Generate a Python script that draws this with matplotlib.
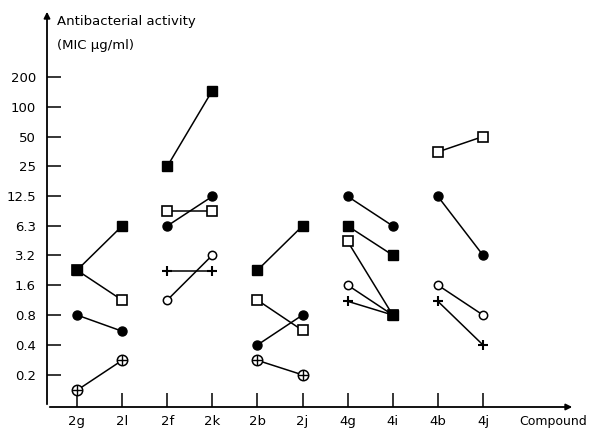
import matplotlib.pyplot as plt

compounds = ["2g", "2l", "2f", "2k", "2b", "2j", "4g", "4i", "4b", "4j"]
pairs = [("2g", "2l"), ("2f", "2k"), ("2b", "2j"), ("4g", "4i"), ("4b", "4j")]
y_ticks = [0.2, 0.4, 0.8, 1.6, 3.2, 6.3, 12.5, 25, 50, 100, 200]

# MIC values, per symbol, per compound
filled_square = {"2g": 2.26, "2l": 6.3, "2f": 25, "2k": 145, "2b": 2.26, "2j": 6.3,
                 "4g": 6.3, "4i": 3.2}
open_square = {"2g": 2.26, "2l": 1.13, "2f": 9.0, "2k": 9.0, "2b": 1.13, "2j": 0.56,
               "4g": 4.4, "4i": 0.8, "4b": 35, "4j": 50}
filled_circle = {"2g": 0.8, "2l": 0.55, "2f": 6.3, "2k": 12.5, "2b": 0.4, "2j": 0.8,
                 "4g": 12.5, "4i": 6.3, "4b": 12.5, "4j": 3.2}
open_circle = {"2f": 1.13, "2k": 3.2, "4g": 1.6, "4i": 0.8, "4b": 1.6, "4j": 0.8}
plus = {"2f": 2.2, "2k": 2.2, "4g": 1.1, "4i": 0.8, "4b": 1.1, "4j": 0.4}
crossed_circle = {"2g": 0.14, "2l": 0.28, "2b": 0.28, "2j": 0.2}

# where several symbols coincide the print shows a solid square
solid_overlap = [("4i", 0.8)]

fig = plt.figure(figsize=(5.9, 4.29), dpi=100)
ax = fig.add_axes([47 / 590, 22 / 429, 528 / 590, 398 / 429])
xpos = {c: i for i, c in enumerate(compounds)}

styles = [
    (open_square, dict(marker="s", ms=7.5, mfc="white", mec="black", mew=1.2)),
    (open_circle, dict(marker="o", ms=6, mfc="white", mec="black", mew=1.1)),
    (plus, dict(marker="+", ms=7, mec="black", mew=1.5)),
    (crossed_circle, dict(marker="o", ms=7.5, mfc="white", mec="black", mew=1.1)),
    (filled_circle, dict(marker="o", ms=6.5, mfc="black", mec="black")),
    (filled_square, dict(marker="s", ms=7.5, mfc="black", mec="black")),
]

for series, st in styles:
    for a, b in pairs:
        if a in series and b in series:
            ax.plot([xpos[a], xpos[b]], [series[a], series[b]], color="black",
                    lw=1.1, zorder=2)
    xs = [xpos[c] for c in series]
    ys = list(series.values())
    ax.plot(xs, ys, ls="none", zorder=3, **st)
    if series is crossed_circle:
        ax.plot(xs, ys, ls="none", marker="+", ms=7.5, mec="black", mew=1.0, zorder=4)

for c, v in solid_overlap:
    ax.plot(xpos[c], v, ls="none", marker="s", ms=7.5, mfc="black", mec="black", zorder=5)

ax.set_yscale("log")
ax.set_ylim(0.095, 960)
ax.set_xlim(-0.665, 11.04)
ax.minorticks_off()
ax.set_yticks(y_ticks)
ax.set_yticklabels([str(t) for t in y_ticks])
ax.set_xticks(range(len(compounds)))
ax.set_xticklabels(compounds)
ax.tick_params(axis="both", direction="in", length=10, width=1.1, labelsize=9.5,
               color="black")
ax.tick_params(axis="y", pad=8)
ax.tick_params(axis="x", pad=6)

for s in ax.spines.values():
    s.set_visible(False)
ax.annotate("", xy=(0, 1.0), xytext=(0, 0), xycoords="axes fraction",
            arrowprops=dict(arrowstyle="-|>", lw=1.3, color="black", mutation_scale=9))
ax.annotate("", xy=(1.0, 0), xytext=(0, 0), xycoords="axes fraction",
            arrowprops=dict(arrowstyle="-|>", lw=1.3, color="black", mutation_scale=9))

fig.text(57 / 590, 1 - 22 / 429, "Antibacterial activity", fontsize=9.5, va="center")
fig.text(57 / 590, 1 - 46 / 429, "(MIC \u03bcg/ml)", fontsize=9.5, va="center")
fig.text(519 / 590, 1 - 422 / 429, "Compound", fontsize=9, va="center")

fig.savefig("out.png", dpi=100)
